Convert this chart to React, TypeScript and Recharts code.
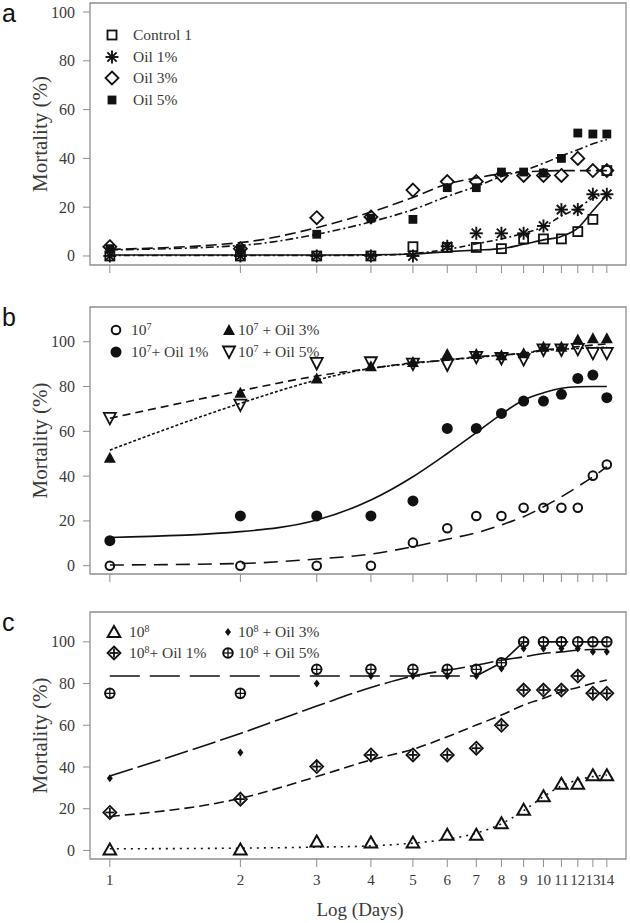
import React from 'react'
import { ComposedChart, Line, XAxis, YAxis, ReferenceArea, Legend } from 'recharts'

// shared x axis (days, log scale)
const days = [1, 2, 3, 4, 5, 6, 7, 8, 9, 10, 11, 12, 13, 14]
const yTicks = [0, 20, 40, 60, 80, 100]

// panel a — observed
const control1 = [0, 0, 0, 0, 3.8, 3.5, 3.5, 3, 7, 7, 7, 10, 15, 35]
const oil1 = [0, 0, 0, 0, 0, 4, 9.3, 9.3, 9.3, 12.3, 19, 19, 25.3, 25.3]
const oil3 = [3.8, 3, 15.7, 16, 27, 30.5, 30.5, 33, 33, 33, 33, 40, 35, 35]
const oil5 = [3, 3, 8.9, 15.5, 15, 28, 28, 34.4, 34.4, 34, 40, 50.4, 50, 50]
// panel a — fitted curves
const fitControl1 = [0.4, 0.4, 0.4, 0.5, 0.8, 1.8, 2.4, 3, 4.8, 6.6, 8, 11.4, 18.5, 25]
const fitOil1 = [0.2, 0.2, 0.2, 0.3, 1, 2.7, 5, 7, 9.3, 12, 16.4, 19.6, 23.7, 25.7]
const fitOil3 = [2.7, 5.5, 11.6, 18, 24, 29.5, 32, 33.7, 34.5, 34.8, 35, 35, 35, 35]
const fitOil5 = [2.5, 4.3, 8.9, 14, 19, 24.4, 28.5, 32.6, 35, 38, 41, 43.5, 46, 47.7]

// panel b — observed
const b7 = [0, 0, 0, 0, 10.3, 16.7, 22.2, 22.2, 25.9, 25.9, 25.9, 25.9, 40.2, 45.2]
const b7oil1 = [11.2, 22.2, 22.2, 22.2, 28.9, 61.3, 61.3, 68, 73.5, 73.5, 76.5, 83.6, 85.1, 75]
const b7oil3 = [48.2, 77.2, 83.6, 89, 91, 94.5, 94.5, 94, 94.8, 97.8, 97.8, 101, 101.5, 101.5]
const b7oil5 = [65.8, 71.7, 90.3, 90.6, 90, 89.6, 93, 92.5, 92, 96.3, 96.3, 96.6, 94.8, 94.8]
// panel b — fitted curves
const fitB7 = [0.3, 1, 3, 5.2, 8.5, 11.8, 14.7, 18.2, 21.9, 26.3, 30.8, 35.3, 39.7, 44.2]
const fitB7oil1 = [12.6, 15.2, 20.4, 29.3, 39.7, 50.1, 59.4, 67.7, 74, 77.2, 79.2, 79.9, 80, 80]
const fitB7oil3 = [51.6, 72.5, 82.9, 88.1, 90.3, 91.8, 93, 94, 94.8, 96, 96.6, 97, 97.3, 97.5]
const fitB7oil5 = [65.8, 78.1, 84.7, 88.1, 90.6, 91.8, 93.3, 94, 95, 96.3, 97, 97.8, 98.5, 99]

// panel c — observed
const c8 = [0.5, 0.5, 4.3, 3.8, 3.8, 7.5, 7.5, 13, 19.5, 26, 32, 32, 36, 36]
const c8oil1 = [18.2, 24.6, 40.2, 45.8, 45.8, 45.8, 49, 60, 76.9, 76.9, 76.9, 83.6, 75.3, 75.3]
const c8oil3 = [34.6, 46.9, 80, 83.6, 83.6, 83.6, 83.6, 87.2, 96.8, 96.8, 96.8, 96.8, 95.2, 95.2]
const c8oil5 = [75.3, 75.3, 86.8, 86.8, 86.8, 86.8, 86.8, 90, 100, 100, 100, 100, 100, 100]
// panel c — fitted curves
const fitC8 = [0.8, 1.1, 1.6, 2.2, 3.5, 5.4, 8.3, 12.8, 19.1, 25.8, 30.9, 33.8, 35.4, 36.2]
const fitC8oil1 = [16.3, 25, 35.4, 43.4, 48.5, 54.5, 60.1, 64.9, 69.7, 72.9, 76.1, 78.1, 80.1, 81.7]
const fitC8oil3 = [35.7, 56.1, 69.2, 78.1, 83.6, 86.4, 88.8, 91.2, 92.8, 94.4, 95.2, 96, 96.3, 96.3]
const fitC8oil5 = [83.6, 83.6, 83.6, 83.6, 83.6, 83.6, 83.6, 90, 100, 100, 100, 100, 100, 100]

const ink = '#111'
const frameColor = '#8e8e8e'
const textColor = '#3a3a3a'
const serifName = 'Liberation Serif'
const serif = 'Liberation Serif, Times New Roman, serif'
const xDomain = [0.9, 15.5]

type MarkerKind =
  | 'openSquare' | 'filledSquare' | 'asterisk' | 'openDiamond'
  | 'openCircle' | 'filledCircle' | 'filledTriangle' | 'openTriangleDown'
  | 'openTriangle' | 'smallDiamond' | 'crossDiamond' | 'crossCircle'

function Marker({ kind, cx, cy }: { kind: MarkerKind; cx: number; cy: number }) {
  switch (kind) {
    case 'openSquare':
      return <rect x={cx - 4.5} y={cy - 4.5} width={9} height={9} fill="none" stroke={ink} strokeWidth={1.8} />
    case 'filledSquare':
      return <rect x={cx - 4.4} y={cy - 4.4} width={8.8} height={8.8} fill={ink} />
    case 'asterisk': {
      const r = 6.5
      const d = r * 0.7071
      return (
        <g stroke={ink} strokeWidth={1.9}>
          <line x1={cx - r} y1={cy} x2={cx + r} y2={cy} />
          <line x1={cx} y1={cy - r} x2={cx} y2={cy + r} />
          <line x1={cx - d} y1={cy - d} x2={cx + d} y2={cy + d} />
          <line x1={cx - d} y1={cy + d} x2={cx + d} y2={cy - d} />
        </g>
      )
    }
    case 'openDiamond':
      return <polygon points={`${cx},${cy - 6.5} ${cx + 6.5},${cy} ${cx},${cy + 6.5} ${cx - 6.5},${cy}`} fill="none" stroke={ink} strokeWidth={1.8} />
    case 'openCircle':
      return <circle cx={cx} cy={cy} r={4.3} fill="none" stroke={ink} strokeWidth={2} />
    case 'filledCircle':
      return <circle cx={cx} cy={cy} r={5.5} fill={ink} />
    case 'filledTriangle':
      return <polygon points={`${cx},${cy - 6} ${cx + 6},${cy + 5} ${cx - 6},${cy + 5}`} fill={ink} />
    case 'openTriangleDown':
      return <polygon points={`${cx - 6},${cy - 5.5} ${cx + 6},${cy - 5.5} ${cx},${cy + 6}`} fill="none" stroke={ink} strokeWidth={1.8} />
    case 'openTriangle':
      return <polygon points={`${cx},${cy - 6} ${cx + 6.3},${cy + 5} ${cx - 6.3},${cy + 5}`} fill="none" stroke={ink} strokeWidth={2} />
    case 'smallDiamond':
      return <polygon points={`${cx},${cy - 4} ${cx + 3},${cy} ${cx},${cy + 4} ${cx - 3},${cy}`} fill={ink} />
    case 'crossDiamond':
      return (
        <g stroke={ink} strokeWidth={1.8} fill="none">
          <polygon points={`${cx},${cy - 6.5} ${cx + 6.5},${cy} ${cx},${cy + 6.5} ${cx - 6.5},${cy}`} />
          <line x1={cx - 4.5} y1={cy} x2={cx + 4.5} y2={cy} />
          <line x1={cx} y1={cy - 4.5} x2={cx} y2={cy + 4.5} />
        </g>
      )
    case 'crossCircle':
      return (
        <g stroke={ink} fill="none">
          <circle cx={cx} cy={cy} r={4.8} strokeWidth={2} />
          <line x1={cx - 5} y1={cy} x2={cx + 5} y2={cy} strokeWidth={1.3} />
          <line x1={cx} y1={cy - 5} x2={cx} y2={cy + 5} strokeWidth={1.3} />
        </g>
      )
  }
  return null
}

type Series = { key: string; values: number[]; marker: MarkerKind }
type Fit = { key: string; values: number[]; dash?: string; curve?: 'monotone' | 'linear' }
type LegendItem = { label: React.ReactNode; marker: MarkerKind; cx: number; textX: number; cy: number }

type PanelCfg = {
  letter: string
  letterTop: number
  top: number
  height: number
  marginTop: number
  marginBottom: number
  xAxisHeight: number
  yDomain: number[]
  showXLabels: boolean
  series: Series[]
  fits: Fit[]
  legend: LegendItem[]
}

const sup = (base: string, exp: string, rest: string) => (
  <>
    {base}
    <sup style={{ fontSize: 10, verticalAlign: 'top', position: 'relative', top: -3 }}>{exp}</sup>
    {rest}
  </>
)

const panels: PanelCfg[] = [
  {
    letter: 'a', letterTop: 1, top: 0, height: 280, marginTop: 3, marginBottom: 5, xAxisHeight: 10,
    yDomain: [-3.7, 103.7], showXLabels: false,
    series: [
      { key: 'control1', values: control1, marker: 'openSquare' },
      { key: 'oil1', values: oil1, marker: 'asterisk' },
      { key: 'oil3', values: oil3, marker: 'openDiamond' },
      { key: 'oil5', values: oil5, marker: 'filledSquare' },
    ],
    fits: [
      { key: 'fitControl1', values: fitControl1 },
      { key: 'fitOil1', values: fitOil1, dash: '6 3 2 3' },
      { key: 'fitOil3', values: fitOil3, dash: '11 5' },
      { key: 'fitOil5', values: fitOil5, dash: '8 3 2 3' },
    ],
    legend: [
      { label: 'Control 1', marker: 'openSquare', cx: 112, textX: 133, cy: 35 },
      { label: 'Oil 1%', marker: 'asterisk', cx: 112, textX: 133, cy: 57 },
      { label: 'Oil 3%', marker: 'openDiamond', cx: 112, textX: 133, cy: 78 },
      { label: 'Oil 5%', marker: 'filledSquare', cx: 112, textX: 133, cy: 100 },
    ],
  },
  {
    letter: 'b', letterTop: 10, top: 295, height: 290, marginTop: 12, marginBottom: 1, xAxisHeight: 10,
    yDomain: [-3.7, 115.5], showXLabels: false,
    series: [
      { key: 'b7', values: b7, marker: 'openCircle' },
      { key: 'b7oil1', values: b7oil1, marker: 'filledCircle' },
      { key: 'b7oil3', values: b7oil3, marker: 'filledTriangle' },
      { key: 'b7oil5', values: b7oil5, marker: 'openTriangleDown' },
    ],
    fits: [
      { key: 'fitB7', values: fitB7, dash: '14 8' },
      { key: 'fitB7oil1', values: fitB7oil1 },
      { key: 'fitB7oil3', values: fitB7oil3, dash: '3 2' },
      { key: 'fitB7oil5', values: fitB7oil5, dash: '8 5' },
    ],
    legend: [
      { label: sup('10', '7', ''), marker: 'openCircle', cx: 116, textX: 131, cy: 35 },
      { label: sup('10', '7', '+ Oil 1%'), marker: 'filledCircle', cx: 116, textX: 131, cy: 57 },
      { label: sup('10', '7', ' + Oil 3%'), marker: 'filledTriangle', cx: 229, textX: 238, cy: 35 },
      { label: sup('10', '7', ' + Oil 5%'), marker: 'openTriangleDown', cx: 229, textX: 238, cy: 57 },
    ],
  },
  {
    letter: 'c', letterTop: 10, top: 600, height: 323, marginTop: 12, marginBottom: 4, xAxisHeight: 60,
    yDomain: [-4.1, 114.3], showXLabels: true,
    series: [
      { key: 'c8', values: c8, marker: 'openTriangle' },
      { key: 'c8oil1', values: c8oil1, marker: 'crossDiamond' },
      { key: 'c8oil3', values: c8oil3, marker: 'smallDiamond' },
      { key: 'c8oil5', values: c8oil5, marker: 'crossCircle' },
    ],
    fits: [
      { key: 'fitC8', values: fitC8, dash: '2 5' },
      { key: 'fitC8oil1', values: fitC8oil1, dash: '10 5' },
      { key: 'fitC8oil3', values: fitC8oil3, dash: '24 5' },
      { key: 'fitC8oil5', values: fitC8oil5, dash: '30 10', curve: 'linear' },
    ],
    legend: [
      { label: sup('10', '8', ''), marker: 'openTriangle', cx: 114, textX: 129, cy: 32 },
      { label: sup('10', '8', '+ Oil 1%'), marker: 'crossDiamond', cx: 114, textX: 129, cy: 53 },
      { label: sup('10', '8', ' + Oil 3%'), marker: 'smallDiamond', cx: 228, textX: 238, cy: 32 },
      { label: sup('10', '8', ' + Oil 5%'), marker: 'crossCircle', cx: 228, textX: 238, cy: 53 },
    ],
  },
]

function YLabel({ viewBox }: any) {
  const cy = viewBox ? viewBox.y + viewBox.height / 2 : 0
  return (
    <text x={40} y={cy} transform={`rotate(-90 40 ${cy})`} textAnchor="middle" dominantBaseline="central"
      fill={textColor} fontFamily={serifName} fontSize={21}>
      Mortality (%)
    </text>
  )
}

function XLabel({ viewBox }: any) {
  const cx = viewBox ? viewBox.x + viewBox.width / 2 : 0
  const y = viewBox ? viewBox.y + viewBox.height - 3 : 0
  return (
    <text x={cx + 2} y={y} textAnchor="middle" fill={textColor} fontFamily={serifName} fontSize={19}>
      Log (Days)
    </text>
  )
}

function YTick({ x, y, payload }: any) {
  return (
    <text x={x} y={y} textAnchor="end" dominantBaseline="central" fill={textColor} fontFamily={serifName} fontSize={16}>
      {payload.value}
    </text>
  )
}

function XTick({ x, y, payload, show }: any) {
  if (!show) return <g />
  return (
    <text x={x} y={y} dy="0.71em" textAnchor="middle" fill={textColor} fontFamily={serifName} fontSize={15}>
      {payload.value}
    </text>
  )
}

function LegendBox({ items }: { items: LegendItem[] }) {
  return (
    <div style={{ position: 'relative', width: 630, height: 120 }}>
      {items.map((it, i) => (
        <React.Fragment key={i}>
          <svg width={16} height={16} style={{ position: 'absolute', left: it.cx - 8, top: it.cy - 8, overflow: 'visible' }}>
            <Marker kind={it.marker} cx={8} cy={8} />
          </svg>
          <span style={{
            position: 'absolute', left: it.textX, top: it.cy - 9, lineHeight: '18px', whiteSpace: 'nowrap',
            fontFamily: serif, fontSize: 15.5, color: textColor,
          }}>
            {it.label}
          </span>
        </React.Fragment>
      ))}
    </div>
  )
}

function Panel({ cfg }: { cfg: PanelCfg }) {
  const rows = days.map((d, i) => {
    const row: Record<string, number> = { day: d }
    cfg.series.forEach((s) => { row[s.key] = s.values[i] })
    cfg.fits.forEach((f) => { row[f.key] = f.values[i] })
    return row
  })

  return (
    <div style={{ position: 'absolute', left: 0, top: cfg.top, width: 630, height: cfg.height }}>
      <ComposedChart width={630} height={cfg.height} data={rows}
        margin={{ top: cfg.marginTop, right: 4, bottom: cfg.marginBottom, left: 0 }}>
        <XAxis dataKey="day" type="number" scale="log" domain={xDomain} allowDataOverflow ticks={days}
          interval={0} axisLine={false} tickSize={8} tickMargin={7} tickLine={{ stroke: frameColor }}
          tick={<XTick show={cfg.showXLabels} />} height={cfg.xAxisHeight}
          label={cfg.showXLabels ? <XLabel /> : undefined} />
        <YAxis type="number" domain={cfg.yDomain} allowDataOverflow ticks={yTicks} width={90}
          axisLine={false} tickSize={7} tickMargin={8} tickLine={{ stroke: frameColor }}
          tick={<YTick />} label={<YLabel />} />
        <ReferenceArea x1={xDomain[0]} x2={xDomain[1]} y1={cfg.yDomain[0]} y2={cfg.yDomain[1]}
          fill="none" stroke={frameColor} strokeWidth={1.3} ifOverflow="visible" />
        {cfg.fits.map((f) => (
          <Line key={f.key} dataKey={f.key} type={f.curve ?? 'monotone'} stroke={ink} strokeWidth={1.6}
            strokeDasharray={f.dash} dot={false} activeDot={false} isAnimationActive={false} />
        ))}
        {cfg.series.map((s) => (
          <Line key={s.key} dataKey={s.key} stroke="none" activeDot={false} isAnimationActive={false}
            dot={(p: any) => <Marker key={`${s.key}-${p.index}`} kind={s.marker} cx={p.cx} cy={p.cy} />} />
        ))}
        <Legend layout="vertical" align="center" verticalAlign="middle"
          wrapperStyle={{ left: 0, top: 0, width: 630, height: 120, pointerEvents: 'none' }}
          content={() => <LegendBox items={cfg.legend} />} />
      </ComposedChart>
      <div style={{
        position: 'absolute', left: 2, top: cfg.letterTop, fontFamily: 'Liberation Sans, Arial, sans-serif',
        fontSize: 25, lineHeight: 1, color: '#111',
      }}>
        {cfg.letter}
      </div>
    </div>
  )
}

export default function App() {
  return (
    <div style={{ position: 'absolute', left: 0, top: 0, width: 630, height: 923, background: '#fff' }}>
      {panels.map((p) => (
        <Panel key={p.letter} cfg={p} />
      ))}
    </div>
  )
}
